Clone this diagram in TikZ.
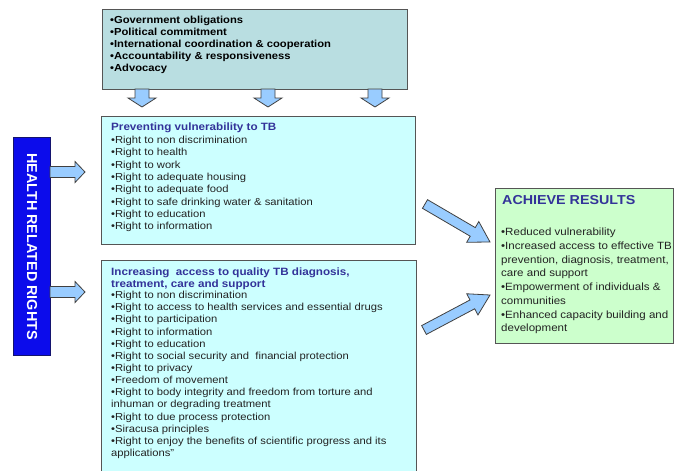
\documentclass[tikz,border=0pt]{standalone}
\usepackage{fontspec}
\setmainfont{Liberation Sans}[FakeStretch=1.1]
\newfontfamily\plainsans{Liberation Sans}
\usetikzlibrary{calc}
\definecolor{topfill}{RGB}{185,222,225}
\definecolor{cyanfill}{RGB}{204,255,255}
\definecolor{greenfill}{RGB}{204,255,204}
\definecolor{arrfill}{RGB}{153,204,255}
\definecolor{edgegray}{RGB}{85,85,85}
\definecolor{headblue}{RGB}{51,51,153}
\definecolor{rightsblue}{RGB}{12,12,235}
\definecolor{rightsedge}{RGB}{20,20,110}
\definecolor{bodytext}{RGB}{35,35,35}
\newcommand{\blockarrow}[5]{% tail, tip, shaft half, head half, head length
  \coordinate (ba-h) at ($(#2)!#5!(#1)$);
  \draw[blockarr] ($(#1)!#3!90:(#2)$) -- ($(ba-h)!#3!90:(#2)$) -- ($(ba-h)!#4!90:(#2)$)
    -- (#2) -- ($(ba-h)!#4!-90:(#2)$) -- ($(ba-h)!#3!-90:(#2)$) -- ($(#1)!#3!-90:(#2)$) -- cycle;
}
\begin{document}
\begin{tikzpicture}[x=1pt,y=-1pt,
  panel/.style={draw=edgegray, line width=1.1pt, anchor=north west, inner sep=0pt},
  blockarr/.style={draw=black!75, fill=arrfill, line width=0.8pt, line join=miter},
  txt/.style={anchor=north west, inner sep=0pt, align=left},
  bodyfont/.style={font=\fontsize{10.2}{12.3}\selectfont, text=bodytext},
  headfont/.style={font=\bfseries\fontsize{10.6}{11.5}\selectfont, text=headblue}]
\useasboundingbox (0,0) rectangle (675,471);
\clip (0,0) rectangle (675,471);
% boxes
\node[panel, fill=topfill, minimum width=305pt, minimum height=80pt] (top) at (102,9) {};
\node[panel, fill=cyanfill, minimum width=314pt, minimum height=128pt] (prev) at (101,116) {};
\node[panel, fill=cyanfill, minimum width=315pt, minimum height=225pt] (access) at (101,260) {};
\node[panel, fill=greenfill, minimum width=178pt, minimum height=155pt] (results) at (495,188) {};
\node[draw=rightsedge, line width=1pt, fill=rightsblue, anchor=north west, inner sep=0pt,
  minimum width=37pt, minimum height=218pt] (rights) at (13,137) {};
\node[rotate=-90, text=white, font=\plainsans\bfseries\fontsize{14.4}{16}\selectfont] (rightstext)
  at (rights.center) {HEALTH RELATED RIGHTS};
% texts
\node[txt, font=\bfseries\fontsize{10.2}{12.1}\selectfont, text=black] (toptext) at (110,15.5) {%
•Government obligations\\
•Political commitment\\
•International coordination \& cooperation\\
•Accountability \& responsiveness\\
•Advocacy};
\node[txt, headfont] (prevhead) at (111,123) {Preventing vulnerability to TB};
\node[txt, bodyfont] (prevtext) at (111,136) {%
•Right to non discrimination\\
•Right to health\\
•Right to work\\
•Right to adequate housing\\
•Right to adequate food\\
•Right to safe drinking water \& sanitation\\
•Right to education\\
•Right to information};
\node[txt, headfont] (acchead) at (111,268) {Increasing\ \ access to quality TB diagnosis,\\treatment, care and support};
\node[txt, font=\fontsize{10.2}{12.15}\selectfont, text=bodytext] (acctext) at (111,291) {%
•Right to non discrimination\\
•Right to access to health services and essential drugs\\
•Right to participation\\
•Right to information\\
•Right to education\\
•Right to social security and\ \ financial protection\\
•Right to privacy\\
•Freedom of movement\\
•Right to body integrity and freedom from torture and\\
inhuman or degrading treatment\\
•Right to due process protection\\
•Siracusa principles\\
•Right to enjoy the benefits of scientific progress and its\\
applications”};
\node[txt, font=\bfseries\fontsize{13}{15}\selectfont, text=headblue] (reshead) at (502,195.5) {ACHIEVE RESULTS};
\node[txt, font=\fontsize{10.5}{13.7}\selectfont, text=bodytext] (restext) at (501,228) {%
•Reduced vulnerability\\
•Increased access to effective TB\\
prevention, diagnosis, treatment,\\
care and support\\
•Empowerment of individuals \&\\
communities\\
•Enhanced capacity building and\\
development};
% arrows
\coordinate (d1t) at (142,89); \coordinate (d1h) at (142,107);
\coordinate (d2t) at (268,89); \coordinate (d2h) at (268,107);
\coordinate (d3t) at (375,89); \coordinate (d3h) at (375,107);
\blockarrow{d1t}{d1h}{7pt}{14pt}{9pt}
\blockarrow{d2t}{d2h}{7pt}{14pt}{9pt}
\blockarrow{d3t}{d3h}{7pt}{14pt}{9pt}
\coordinate (r1t) at (50,172); \coordinate (r1h) at (85,172);
\coordinate (r2t) at (50,292); \coordinate (r2h) at (85,292);
\blockarrow{r1t}{r1h}{5.5pt}{10.5pt}{10pt}
\blockarrow{r2t}{r2h}{5.5pt}{10.5pt}{10pt}
\coordinate (g1t) at (425,204); \coordinate (g1h) at (490,242);
\coordinate (g2t) at (424,330); \coordinate (g2h) at (490,295);
\blockarrow{g1t}{g1h}{5pt}{12pt}{20pt}
\blockarrow{g2t}{g2h}{5pt}{12pt}{20pt}
\end{tikzpicture}
\end{document}
